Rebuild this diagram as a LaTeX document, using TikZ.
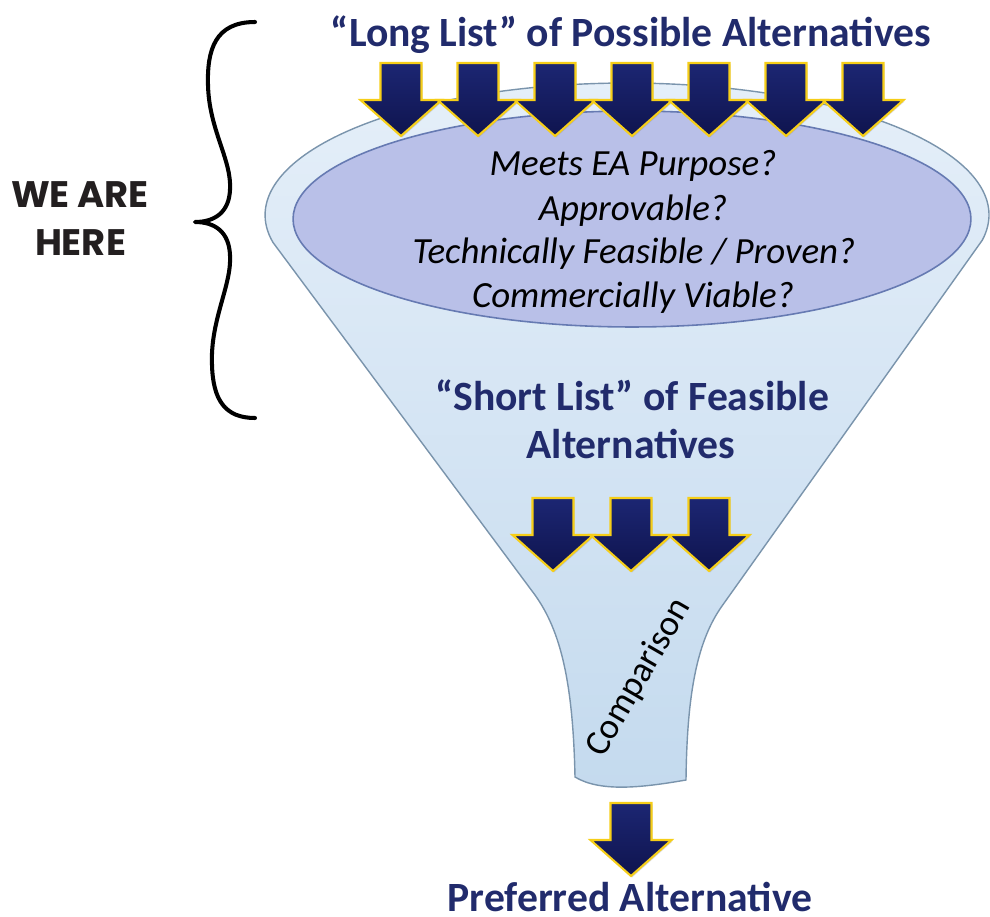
\documentclass[tikz,border=0pt]{standalone}
\usepackage{fontspec}
\setmainfont{Carlito}
\newfontfamily\herefont{Poppins}
\usetikzlibrary{shadows}
\definecolor{Navy}{RGB}{33,43,108}
\definecolor{ArrTop}{RGB}{28,38,115}
\definecolor{ArrBot}{RGB}{15,20,78}
\definecolor{ArrEdge}{RGB}{246,206,24}
\definecolor{FunTop}{RGB}{229,239,249}
\definecolor{FunBot}{RGB}{196,218,238}
\definecolor{FunEdge}{RGB}{122,148,172}
\definecolor{RimFill}{RGB}{185,192,232}
\definecolor{RimEdge}{RGB}{102,122,178}
\definecolor{HereInk}{RGB}{35,31,32}
\tikzset{
  navytext/.style={text=Navy,font=\bfseries\fontsize{23.7}{28}\selectfont,anchor=base,inner sep=0pt},
  question/.style={font=\itshape\fontsize{21}{25}\selectfont,anchor=base,inner sep=0pt},
  heretext/.style={text=HereInk,font=\herefont\bfseries\fontsize{21}{26}\selectfont,anchor=base,inner sep=0pt},
  funnel/.style={draw=FunEdge,line width=0.8pt,top color=FunTop,bottom color=FunBot},
  rim/.style={draw=RimEdge,line width=0.9pt,fill=RimFill},
  arrowbody/.style={draw=ArrEdge,line width=1.2pt,top color=ArrTop,bottom color=ArrBot,
    drop shadow={opacity=0.3,shadow xshift=0.6pt,shadow yshift=-0.8pt}},
  downarrow/.pic={
    \path[arrowbody] (-20.5,0) -- (20.5,0) -- (20.5,37) -- (40.5,37) -- (0,73)
      -- (-40.5,37) -- (-20.5,37) -- cycle;
  },
}
\begin{document}
\begin{tikzpicture}[x=0.02cm,y=-0.02cm]
  \useasboundingbox (0,0) rectangle (990,916);
  % funnel body and rim
  \coordinate (C) at (627,215);
  \draw[funnel] ([shift={(192:7.24cm and 2.64cm)}]C) -- (535,595)
    .. controls (560,630) and (573,680) .. (575,777)
    .. controls (600,792) and (640,788) .. (686,780)
    .. controls (687,690) and (698,640) .. (722,606)
    -- ([shift={(-11:7.24cm and 2.64cm)}]C)
    arc[start angle=-11,end angle=192,x radius=7.24cm,y radius=2.64cm] -- cycle;
  \draw[rim] (632,219) ellipse[x radius=6.78cm,y radius=2.16cm];
  % texts
  \node[navytext] (longlist) at (631,46) {“Long List” of Possible Alternatives};
  \node[question] (q1) at (633,175) {Meets EA Purpose?};
  \node[question] (q2) at (633,220) {Approvable?};
  \node[question] (q3) at (634,263) {Technically Feasible / Proven?};
  \node[question] (q4) at (633,307) {Commercially Viable?};
  \node[navytext] (short1) at (632,410) {“Short List” of Feasible};
  \node[navytext] (short2) at (631,458) {Alternatives};
  \node[font=\fontsize{20.5}{24}\selectfont,rotate=60,inner sep=0pt] (comp) at (639,678) {Comparison};
  \node[navytext] (pref) at (630,911) {Preferred Alternative};
  \node[heretext] (we) at (80,207) {WE ARE};
  \node[heretext] (here) at (80.5,255) {HERE};
  % arrows
  \foreach \x [count=\i] in {401,478,555,632,709,786,863}
    \pic (top\i) at (\x,63) {downarrow};
  \foreach \x [count=\i] in {553,631,709}
    \pic (mid\i) at (\x,498) {downarrow};
  \pic (last) at (631,803) {downarrow};
  % brace
  \draw[line width=2.3pt,line cap=round,line join=round]
    (255,22) .. controls (215,22) and (207,50) .. (208,85)
    .. controls (209,130) and (232,160) .. (230,190)
    .. controls (229,212) and (215,222) .. (195,222)
    .. controls (215,222) and (229,232) .. (230,255)
    .. controls (232,285) and (210,320) .. (212,365)
    .. controls (213,400) and (225,418) .. (255,418);
\end{tikzpicture}
\end{document}
